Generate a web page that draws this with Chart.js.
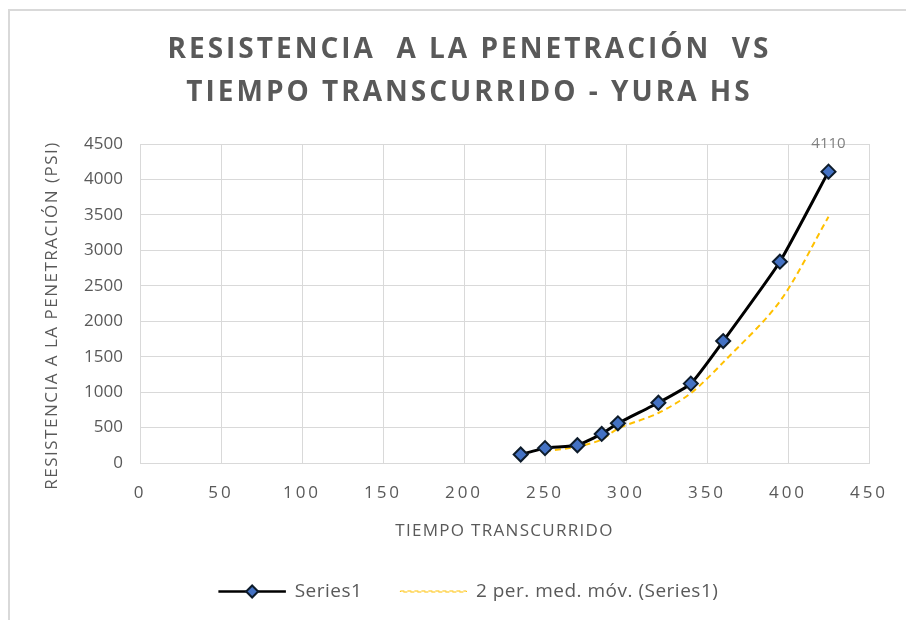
<!DOCTYPE html>
<html>
<head>
<meta charset="utf-8">
<script src="https://cdn.jsdelivr.net/npm/chart.js@4.4.1/dist/chart.umd.min.js"></script>
<style>
  html, body { margin: 0; padding: 0; background: #fff; }
  #wrap { position: relative; width: 906px; height: 620px; overflow: hidden; }
  #frame { position: absolute; left: 8px; top: 9px; width: 1000px; height: 1000px; border: 2px solid #d9d9d9; box-sizing: border-box; }
  canvas { position: absolute; left: 0; top: 0; }
</style>
</head>
<body>
<div id="wrap">
  <div id="frame"></div>
  <canvas id="myChart" width="906" height="620"></canvas>
</div>
<script>
// tiempo transcurrido (x) and resistencia (psi)
const tiempo = [235, 250, 270, 285, 295, 320, 340, 360, 395, 425];
const resistencia = [120, 210, 250, 410, 560, 850, 1120, 1720, 2840, 4110];
// 2 period moving average (starts at 2nd point)
const mediaMovil = [165, 230, 330, 485, 705, 985, 1420, 2280, 3475];

const titulo = ["RESISTENCIA  A LA PENETRACIÓN  VS", "TIEMPO TRANSCURRIDO - YURA HS"];
const gris = "#595959";

const ctx = document.querySelector("#myChart").getContext("2d");

// wrap a draw method so its text gets letter spacing (and an optional shift)
function spaced(obj, name, px, dx, dy) {
  if (!obj || obj["_sp_" + name]) return;
  const orig = obj[name];
  obj[name] = function (a) {
    const c = this.ctx || this.chart.ctx;
    c.save();
    c.letterSpacing = px + "px";
    c.translate(dx || 0, dy || 0);
    orig.call(this, a);
    c.restore();
  };
  obj["_sp_" + name] = true;
}

const spacing = {
  id: "spacing",
  afterLayout(chart) {
    // title and legend sit a bit right of centre in the original
    chart.titleBlock.left += 15;
    chart.titleBlock.right += 15;
    chart.legend.left += 6;
    chart.legend.right += 6;
  },
  beforeDraw(chart) {
    spaced(chart.titleBlock, "draw", 3);
    spaced(chart.legend, "draw", 0.5);
    spaced(chart.scales.x, "drawLabels", 3);
    spaced(chart.scales.x, "drawTitle", 1.3);
    spaced(chart.scales.y, "drawTitle", 1.5, 0, 12);
  },
};

// label on last point + diamond on the legend line
const extras = {
  id: "extras",
  afterDraw(chart) {
    const c = chart.ctx;
    const meta = chart.getDatasetMeta(0);
    const last = meta.data.length - 1;
    const pt = meta.data[last];
    c.save();
    c.font = "15px 'Open Sans'";
    c.fillStyle = "#7f7f7f";
    c.textAlign = "center";
    c.textBaseline = "middle";
    c.fillText(String(resistencia[last]), pt.x, pt.y - 28);

    const hb = chart.legend.legendHitBoxes[0];
    if (hb) {
      const bw = chart.legend.options.labels.boxWidth;
      c.fillStyle = "#4472c4";
      c.strokeStyle = "#0d1b2a";
      c.lineWidth = 2;
      Chart.helpers.drawPoint(c, { pointStyle: "rectRot", radius: 6, borderWidth: 2 }, hb.left + bw / 2, hb.top + hb.height / 2);
    }
    c.restore();
  },
};

const data = {
  datasets: [
    {
      label: "Series1",
      data: tiempo.map((t, i) => ({ x: t, y: resistencia[i] })),
      borderColor: "#000",
      backgroundColor: "#000",
      borderWidth: 3,
      tension: 0.15,
      pointStyle: "rectRot",
      pointRadius: 7,
      pointBackgroundColor: "#4472c4",
      pointBorderColor: "#0d1b2a",
      pointBorderWidth: 2,
      order: 1,
    },
    {
      label: "2 per. med. móv. (Series1)",
      data: mediaMovil.map((v, i) => ({ x: tiempo[i + 1], y: v })),
      borderColor: "#ffc000",
      backgroundColor: "#ffc000",
      borderWidth: 2,
      borderDash: [6, 4],
      tension: 0.3,
      pointRadius: 0,
      fill: false,
      order: 2,
    },
  ],
};

const config = {
  type: "line",
  data: data,
  plugins: [spacing, extras],
  options: {
    responsive: false,
    animation: false,
    devicePixelRatio: 1,
    layout: { padding: { top: 10, left: 40, right: 37, bottom: 9 } },
    plugins: {
      title: {
        display: true,
        text: titulo,
        color: gris,
        font: { family: "'Open Sans'", size: 28, weight: "bold", lineHeight: 1.536 },
        padding: { top: 18.5, bottom: 29.5 },
      },
      legend: {
        position: "bottom",
        labels: {
          color: gris,
          font: { family: "'Open Sans'", size: 19 },
          boxWidth: 66,
          boxHeight: 1,
          padding: 38,
          generateLabels(chart) {
            const items = Chart.defaults.plugins.legend.labels.generateLabels(chart);
            items[0].lineWidth = 1.5;
            items[0].fillStyle = "#000";
            items[0].strokeStyle = "#000";
            items[1].lineWidth = 1;
            items[1].fillStyle = "rgba(0,0,0,0)";
            items[1].strokeStyle = "#ffc000";
            items[1].lineDash = [4, 3];
            return items;
          },
        },
      },
      tooltip: { enabled: false },
    },
    scales: {
      x: {
        type: "linear",
        min: 0,
        max: 450,
        ticks: { stepSize: 50, color: gris, padding: 20, font: { family: "'Open Sans'", size: 17 } },
        grid: { color: "#d9d9d9", drawTicks: false },
        border: { color: "#d9d9d9" },
        title: {
          display: true,
          text: "TIEMPO TRANSCURRIDO",
          color: gris,
          font: { family: "'Open Sans'", size: 17 },
          padding: { top: 4, bottom: 3 },
        },
        afterFit(scale) {
          scale.height = 620 - 463 - 9 - scale.chart.legend.height;
        },
      },
      y: {
        min: 0,
        max: 4500,
        ticks: {
          stepSize: 500,
          color: gris,
          padding: 17,
          font: { family: "'Open Sans'", size: 17 },
          callback: (v) => String(v),
        },
        grid: { color: "#d9d9d9", drawTicks: false },
        border: { color: "#d9d9d9" },
        title: {
          display: true,
          text: "RESISTENCIA A LA PENETRACIÓN (PSI)",
          color: gris,
          font: { family: "'Open Sans'", size: 17 },
          padding: { top: 2, bottom: 0 },
        },
        afterFit(scale) {
          scale.width = 100;
        },
      },
    },
  },
};

const myChart = new Chart(ctx, config);
</script>
</body>
</html>
